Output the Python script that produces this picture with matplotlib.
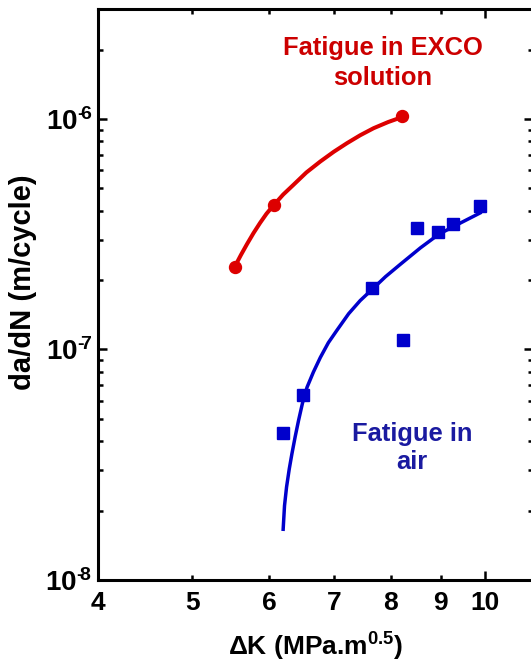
import matplotlib
matplotlib.use("Agg")
import matplotlib.pyplot as plt
from matplotlib.ticker import FixedLocator, NullFormatter

plt.rcParams['font.family'] = 'Liberation Sans'
plt.rcParams['font.weight'] = 'bold'
plt.rcParams['mathtext.fontset'] = 'custom'
plt.rcParams['mathtext.rm'] = 'Liberation Sans:bold'
plt.rcParams['mathtext.bf'] = 'Liberation Sans:bold'
plt.rcParams['mathtext.it'] = 'Liberation Sans:bold:italic'

# measured points (dK in MPa.m^0.5, da/dN in m/cycle)
exco_dk = [5.53, 6.06, 8.22]
exco_dadn = [2.29e-7, 4.22e-7, 1.03e-6]

air_dk = [6.20, 6.50, 7.65, 8.24, 8.52, 8.94, 9.26, 9.88]
air_dadn = [4.33e-8, 6.33e-8, 1.85e-7, 1.10e-7, 3.37e-7, 3.24e-7, 3.52e-7, 4.18e-7]

# fitted curves
exco_fit_dk = [5.53, 5.61, 5.69, 5.78, 5.87, 5.96, 6.06, 6.20, 6.35, 6.55, 6.77,
               6.99, 7.21, 7.44, 7.68, 7.95, 8.22]
exco_fit_dadn = [2.29e-7, 2.57e-7, 2.86e-7, 3.20e-7, 3.54e-7, 3.88e-7, 4.22e-7, 4.70e-7,
                 5.17e-7, 5.86e-7, 6.54e-7, 7.21e-7, 7.85e-7, 8.50e-7, 9.12e-7,
                 9.70e-7, 1.02e-6]

air_fit_dk = [6.20, 6.22, 6.25, 6.29, 6.33, 6.38, 6.43, 6.49, 6.56, 6.66, 6.77, 6.90,
              7.04, 7.24, 7.44, 7.65, 7.90, 8.18, 8.58, 8.96, 9.36, 9.88]
air_fit_dadn = [1.66e-8, 2.10e-8, 2.53e-8, 3.03e-8, 3.53e-8, 4.20e-8, 4.92e-8, 5.85e-8,
                6.85e-8, 7.98e-8, 9.23e-8, 1.07e-7, 1.21e-7, 1.43e-7, 1.63e-7, 1.82e-7,
                2.07e-7, 2.34e-7, 2.76e-7, 3.16e-7, 3.48e-7, 3.91e-7]

x_minor_ticks = [4, 5, 6, 7, 8, 9]
y_major_ticks = [1e-8, 1e-7, 1e-6]
y_major_labels = ['10$^{\u2010\\!8}$', '10$^{\u2010\\!7}$', '10$^{\u2010\\!6}$']

red = '#dd0000'
blue = '#0000cc'

fig = plt.figure(figsize=(5.31, 6.67), dpi=100)
ax = fig.add_axes([98 / 531, 87 / 667, 435 / 531, 571 / 667])

ax.plot(exco_fit_dk, exco_fit_dadn, color=red, linewidth=2.9)
ax.plot(exco_dk, exco_dadn, 'o', color=red, markersize=8.6)

ax.plot(air_fit_dk, air_fit_dadn, color=blue, linewidth=2.5)
ax.plot(air_dk, air_dadn, 's', color=blue, markersize=8.8)

ax.set_xscale('log')
ax.set_yscale('log')
ax.set_xlim(4, 11.2)
ax.set_ylim(1e-8, 3e-6)

ax.xaxis.set_major_locator(FixedLocator([10]))
ax.set_xticklabels(['10'])
ax.xaxis.set_minor_locator(FixedLocator(x_minor_ticks))
ax.set_xticklabels([str(v) for v in x_minor_ticks], minor=True)

ax.yaxis.set_major_locator(FixedLocator(y_major_ticks))
ax.set_yticklabels(y_major_labels)
ax.yaxis.set_minor_formatter(NullFormatter())

for s in ax.spines.values():
    s.set_linewidth(2.2)

ax.tick_params(which='both', direction='in', top=True, right=True, width=1.8)
ax.tick_params(which='major', length=6.5)
ax.tick_params(which='minor', length=3.6)
ax.tick_params(axis='x', which='both', pad=8, labelsize=19)
ax.tick_params(axis='y', which='both', pad=4, labelsize=20)

ax.set_xlabel('ΔK (MPa.m$^{0.5}$)', fontsize=19, fontweight='bold')
ax.xaxis.set_label_coords(0.5, -0.089)
ax.set_ylabel('da/dN (m/cycle)', fontsize=21, fontweight='bold')
ax.yaxis.set_label_coords(-0.14, 0.522)

ax.text(0.655, 0.905, 'Fatigue in EXCO\nsolution', transform=ax.transAxes,
        ha='center', va='center', multialignment='center', linespacing=1.3,
        fontsize=18.4, fontweight='bold', color='#cc0000')
ax.text(0.722, 0.231, 'Fatigue in\nair', transform=ax.transAxes,
        ha='center', va='center', multialignment='center',
        fontsize=18.4, fontweight='bold', color='#1a1aa0')

fig.savefig('out.png', dpi=100)
